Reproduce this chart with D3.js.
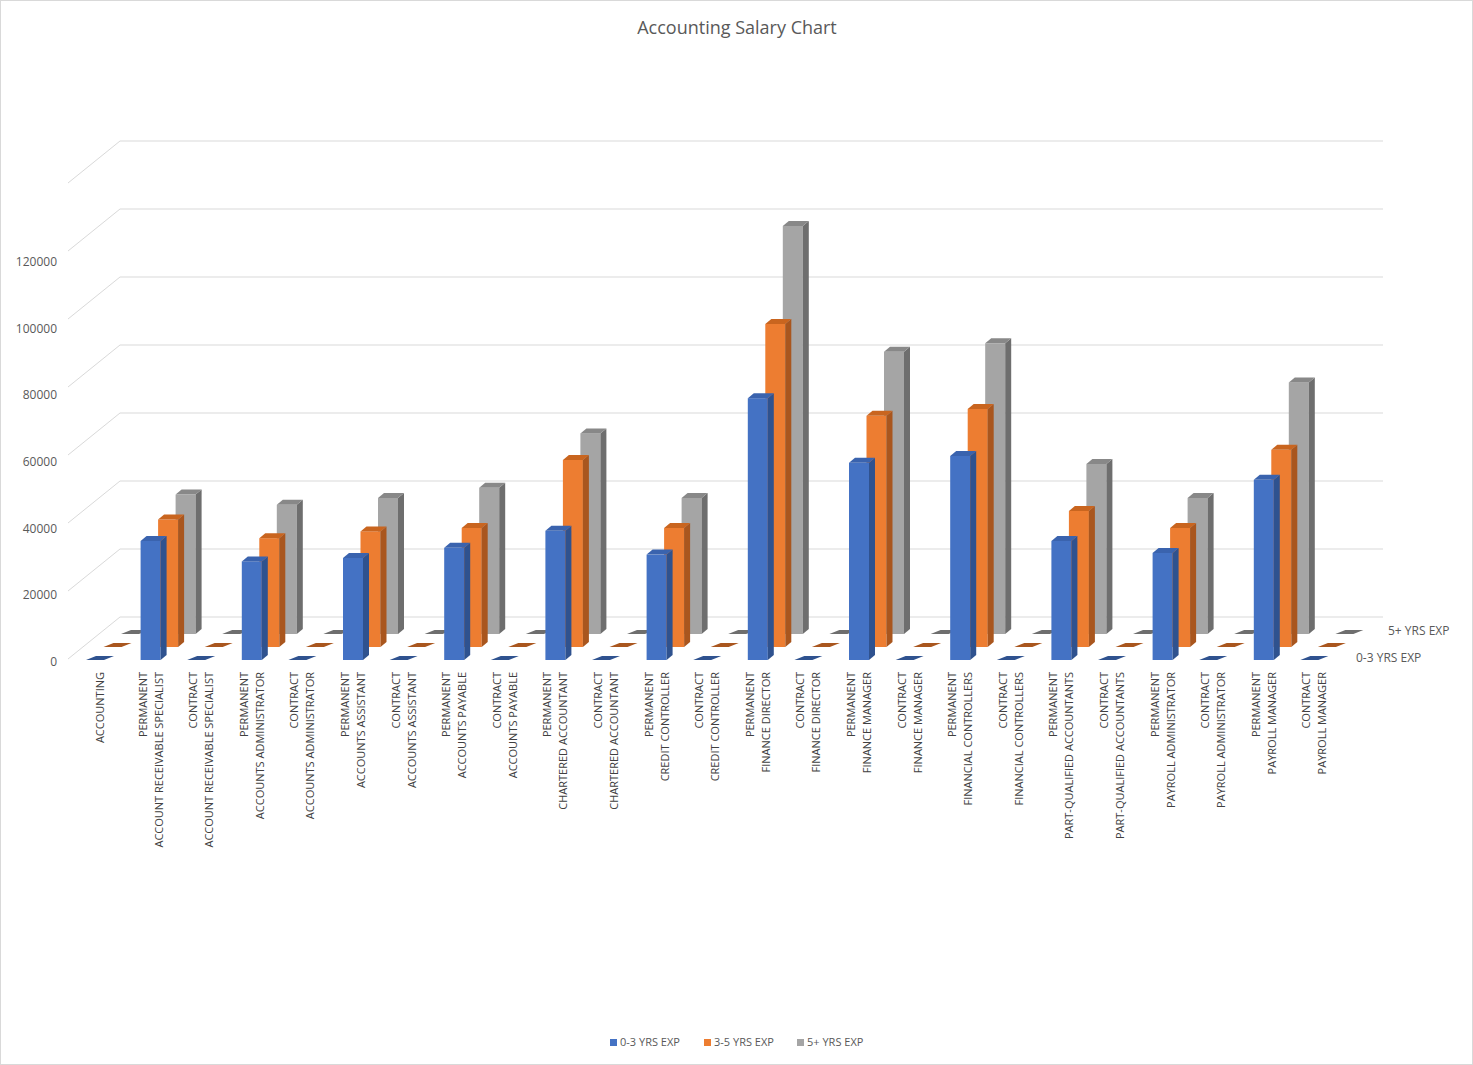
<!DOCTYPE html>
<html><head><meta charset="utf-8">
<script src="https://cdn.jsdelivr.net/npm/d3@7"></script>
<style>body{margin:0;background:#fff}svg{font-family:"Open Sans",Lato,sans-serif}</style>
</head><body><svg id="c" width="1473" height="1065"></svg>
<script>
const categories = [["ACCOUNTING"],
 ["PERMANENT","ACCOUNT RECEIVABLE SPECIALIST"],["CONTRACT","ACCOUNT RECEIVABLE SPECIALIST"],
 ["PERMANENT","ACCOUNTS ADMINISTRATOR"],["CONTRACT","ACCOUNTS ADMINISTRATOR"],
 ["PERMANENT","ACCOUNTS ASSISTANT"],["CONTRACT","ACCOUNTS ASSISTANT"],
 ["PERMANENT","ACCOUNTS PAYABLE"],["CONTRACT","ACCOUNTS PAYABLE"],
 ["PERMANENT","CHARTERED ACCOUNTANT"],["CONTRACT","CHARTERED ACCOUNTANT"],
 ["PERMANENT","CREDIT CONTROLLER"],["CONTRACT","CREDIT CONTROLLER"],
 ["PERMANENT","FINANCE DIRECTOR"],["CONTRACT","FINANCE DIRECTOR"],
 ["PERMANENT","FINANCE MANAGER"],["CONTRACT","FINANCE MANAGER"],
 ["PERMANENT","FINANCIAL CONTROLLERS"],["CONTRACT","FINANCIAL CONTROLLERS"],
 ["PERMANENT","PART-QUALIFIED ACCOUNTANTS"],["CONTRACT","PART-QUALIFIED ACCOUNTANTS"],
 ["PERMANENT","PAYROLL ADMINISTRATOR"],["CONTRACT","PAYROLL ADMINISTRATOR"],
 ["PERMANENT","PAYROLL MANAGER"],["CONTRACT","PAYROLL MANAGER"]];
const seriesNames = ["0-3 YRS EXP","3-5 YRS EXP","5+ YRS EXP"];
const exp03 = [0,35000,0,29000,0,30000,0,33000,0,38000,0,31000,0,77000,0,58000,0,60000,0,35000,0,31500,0,53000,0];
const exp35 = [0,37500,0,32000,0,34000,0,35000,0,55000,0,35000,0,95000,0,68000,0,70000,0,40000,0,35000,0,58000,0];
const exp5p = [0,41000,0,38000,0,40000,0,43000,0,59000,0,40000,0,120000,0,83000,0,85500,0,50000,0,40000,0,74000,0];
const yTicks = [0,20000,40000,60000,80000,100000,120000];
const seriesValues = [exp03, exp35, exp5p];
const colors = [["#4472C4","#2F528F","#3A63AE"],["#ED7D31","#A9561E","#C9651F"],["#A5A5A5","#6E6E6E","#888888"]];

const svg = d3.select("#c");
svg.append("rect").attr("x",0.5).attr("y",0.5).attr("width",1472).attr("height",1064).attr("fill","#fff").attr("stroke","#d9d9d9");
svg.append("text").attr("x",737).attr("y",34).attr("text-anchor","middle").attr("font-size",18).attr("fill","#595959").text("Accounting Salary Chart");

const y = d3.scaleLinear().domain([0,20000]).range([0,68]);
const x = d3.scalePoint().domain(d3.range(categories.length)).range([100,100+24*50.6]);
const frontY0 = 660, backY0 = 627, fx = 68, bx = 120;
const sdx = 17.5, sdy = -13;

const g = svg.append("g");
[...yTicks,140000].forEach(v=>{
  if(v>=140000) v=140000;
  const fy = frontY0 - y(v) - 3, by = backY0 - y(v) - 10;
  g.append("line").attr("x1",fx).attr("y1",fy+2).attr("x2",bx).attr("y2",by).attr("stroke","#d9d9d9");
  g.append("line").attr("x1",bx).attr("y1",by).attr("x2",1383).attr("y2",by).attr("stroke","#d9d9d9");
});
yTicks.forEach(v=>{
  g.append("text").attr("x",57).attr("y",frontY0 - y(v)*0.98 + 6).attr("text-anchor","end")
   .attr("font-size",12).attr("fill","#595959").text(v);
});

// bars, back series first
const w = 20, dd = 6, dh = 5;
for(let s=2;s>=0;s--){
  const [cf,cs,ct] = colors[s];
  seriesValues[s].forEach((v,i)=>{
    const x0 = x(i) - w/2 + s*sdx, base = frontY0 + s*sdy, top = base - y(v);
    if(v===0){
      g.append("path").attr("d",`M${x0-4},${base}L${x0+w-6},${base}L${x0+w+4},${base-4}L${x0+6},${base-4}Z`).attr("fill",cs);
      return;
    }
    g.append("rect").attr("x",x0).attr("y",top).attr("width",w).attr("height",base-top).attr("fill",cf);
    g.append("path").attr("d",`M${x0+w},${top}L${x0+w+dd},${top-dh}L${x0+w+dd},${base-dh}L${x0+w},${base}Z`).attr("fill",cs);
    g.append("path").attr("d",`M${x0},${top}L${x0+dd},${top-dh}L${x0+w+dd},${top-dh}L${x0+w},${top}Z`).attr("fill",ct);
  });
}
g.append("text").attr("x",1388).attr("y",635).attr("font-size",12).attr("fill","#595959").text("5+ YRS EXP");
g.append("text").attr("x",1356).attr("y",662).attr("font-size",12).attr("fill","#595959").text("0-3 YRS EXP");

categories.forEach((c,i)=>{
  const t = g.append("text").attr("transform",`translate(${x(i)},672) rotate(-90)`).attr("text-anchor","end")
    .attr("font-size",11).attr("fill","#404040");
  if(c.length===1){ t.append("tspan").attr("x",0).attr("dy",4).text(c[0]); }
  else { t.append("tspan").attr("x",0).attr("dy",-4).text(c[0]); t.append("tspan").attr("x",0).attr("dy",16).text(c[1]); }
});

const lg = svg.append("g").attr("transform","translate(610,1046)");
const lx = [0,94,187];
seriesNames.forEach((n,i)=>{
  lg.append("rect").attr("x",lx[i]).attr("y",-7).attr("width",7).attr("height",7).attr("fill",colors[i][0]);
  lg.append("text").attr("x",lx[i]+10).attr("y",0).attr("font-size",11).attr("fill","#595959").text(n);
});
</script></body></html>
